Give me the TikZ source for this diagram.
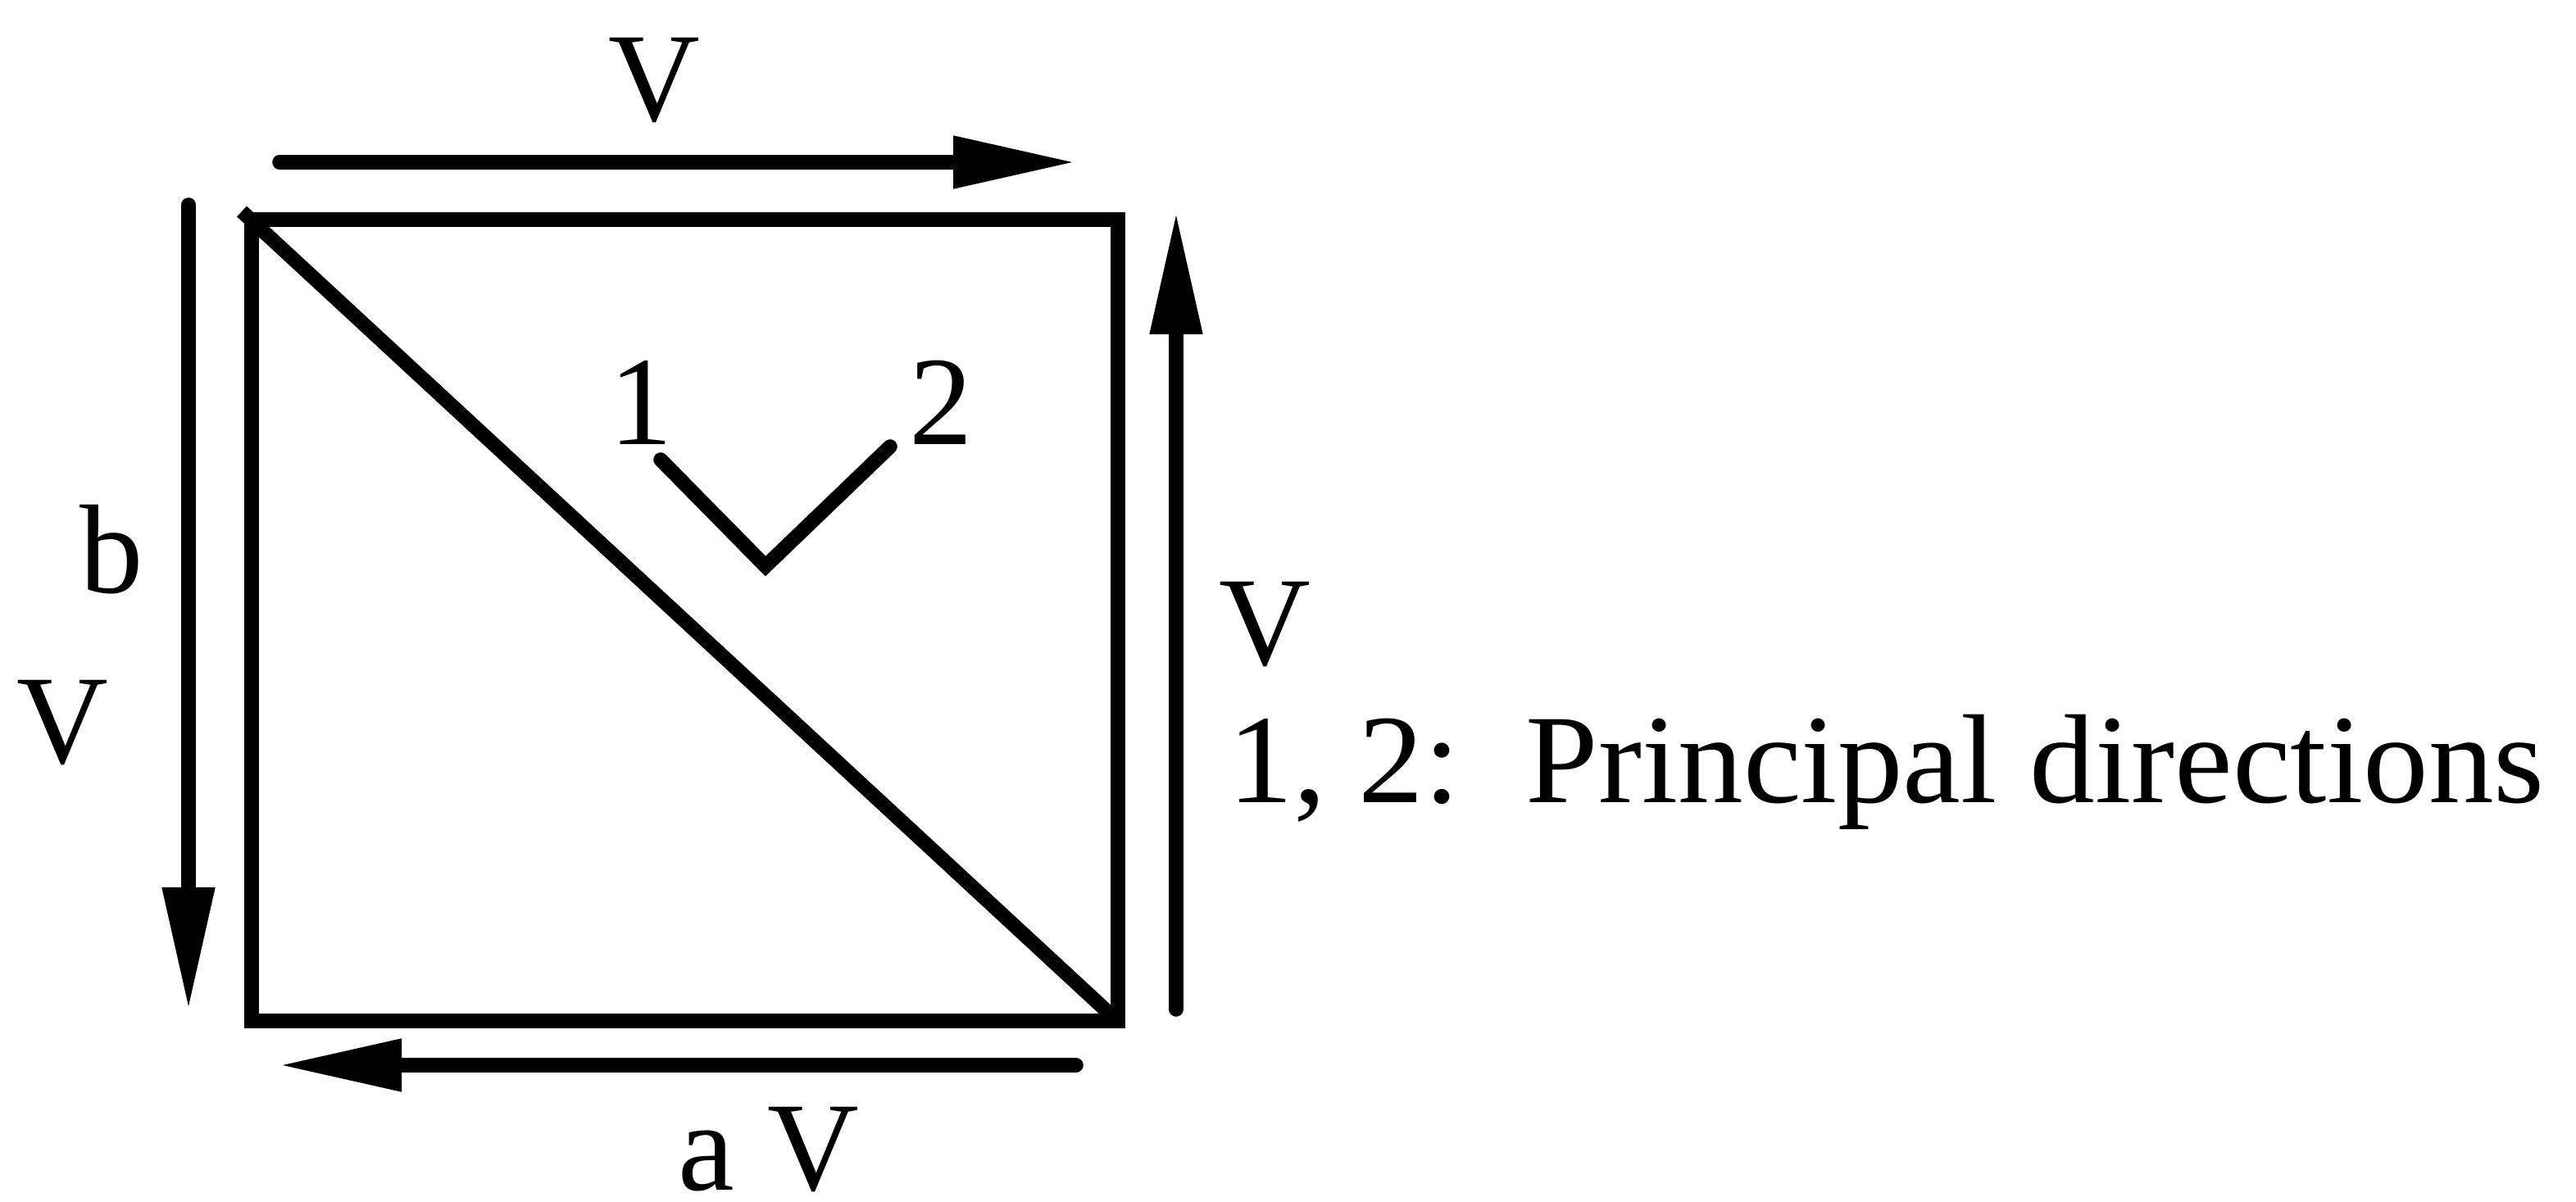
\documentclass[tikz,border=0pt]{standalone}
\usepackage{fontspec}
\setmainfont{Liberation Serif}
\newfontfamily\legendfont[FakeStretch=1.03]{Liberation Serif}
\usetikzlibrary{arrows.meta,positioning}

\begin{document}
\begin{tikzpicture}[every node/.style={font=\fontsize{44}{50}\selectfont, inner sep=0pt}]
  \tikzstyle{edgeline} = [line width=5pt]
  \tikzstyle{shear} = [line width=5pt, line cap=round, -{Triangle[length=15mm,width=6mm]}]
  \useasboundingbox (0,0) rectangle (31.43,14.66);

  % Plate corners
  \coordinate (tl) at (3.07,11.98);
  \coordinate (tr) at (13.64,11.98);
  \coordinate (br) at (13.64,2.20);
  \coordinate (bl) at (3.07,2.20);
  \draw[edgeline] (tl) -- (tr) -- (br) -- (bl) -- cycle;
  \coordinate (diagA) at (2.95,12.08);
  \coordinate (diagB) at (13.58,2.25);
  \draw[edgeline] (diagA) -- (diagB);

  % Shear arrows
  \coordinate (topS) at (3.41,12.68);
  \coordinate (topE) at (13.13,12.68);
  \coordinate (leftS) at (2.30,12.16);
  \coordinate (leftE) at (2.30,2.33);
  \coordinate (rightS) at (14.35,2.34);
  \coordinate (rightE) at (14.35,12.08);
  \coordinate (botS) at (13.13,1.66);
  \coordinate (botE) at (3.40,1.66);
  \draw[shear] (topS) -- (topE);
  \draw[shear] (leftS) -- (leftE);
  \draw[shear] (rightS) -- (rightE);
  \draw[shear] (botS) -- (botE);

  % Labels
  \node (vtop) at (7.98,13.68) {V};
  \node (vleft) at (0.76,5.84) {V};
  \node (vright) at (15.43,7.04) {V};
  \node[anchor=base] (vbot) at (9.92,0.14) {V};
  \node (lb) at (1.36,7.95) {b};
  \node[anchor=base] (la) at (8.62,0.14) {a};

  % Principal directions
  \coordinate (d1) at (8.06,9.05);
  \coordinate (d0) at (9.34,7.75);
  \coordinate (d2) at (10.86,9.21);
  \draw[edgeline, line cap=round] (d1) -- (d0) -- (d2);
  \node (p1) at (7.82,9.75) {1};
  \node (p2) at (11.48,9.75) {2};
  \node[anchor=west, font=\fontsize{44}{50}\legendfont] (legend) at (14.98,5.24) {1, 2:~~Principal directions};
\end{tikzpicture}
\end{document}
